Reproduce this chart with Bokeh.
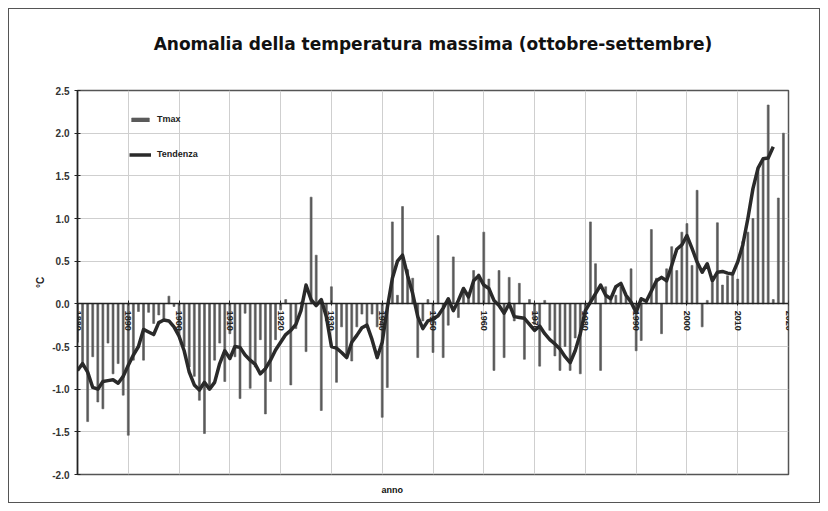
import math
from bokeh.plotting import figure
from bokeh.models import Range1d, FixedTicker, Title, Legend, LegendItem, NumeralTickFormatter, ColumnDataSource
from bokeh.embed import file_html
from bokeh.resources import INLINE

# ---- data ----
years = list(range(1880, 2020))
anomalies = [
    -0.45, -0.74, -1.38, -0.62, -1.15, -1.23, -0.46, -0.82, -0.70, -1.07,
    -1.54, -0.66, -0.09, -0.66, -0.10, -0.23, -0.13, -0.19, 0.09, -0.03,
    -0.38, -0.50, -0.74, -0.85, -1.13, -1.52, -0.97, -0.66, -0.46, -0.91,
    -0.35, -0.62, -1.11, -0.11, -0.99, -0.74, -0.42, -1.29, -0.91, -0.42,
    -0.07, 0.05, -0.95, -0.29, 0.02, -0.56, 1.25, 0.57, -1.25, -0.20,
    0.20, -0.92, -0.27, -0.63, -0.67, -0.27, -0.12, -0.24, -0.12, -0.27,
    -1.33, -0.98, 0.96, 0.10, 1.14, 0.40, 0.30, -0.63, -0.20, 0.05,
    -0.57, 0.80, -0.63, -0.25, 0.55, -0.16, 0.16, 0.10, 0.39, 0.35,
    0.84, 0.29, -0.78, 0.39, -0.63, 0.31, -0.20, 0.24, -0.65, 0.05,
    -0.24, -0.73, 0.04, -0.31, -0.61, -0.78, -0.50, -0.78, -0.40, -0.82,
    -0.15, 0.96, 0.47, -0.78, 0.20, 0.05, 0.10, 0.20, 0.10, 0.41,
    -0.55, -0.43, 0.05, 0.87, 0.30, -0.35, 0.41, 0.67, 0.39, 0.84,
    0.94, 0.45, 1.33, -0.27, 0.04, 0.25, 0.95, 0.22, 0.33, 0.35,
    0.29, 0.73, 0.84, 1.00, 1.59, 1.70, 2.33, 0.05, 1.24, 2.00,
]
trend_years = list(range(1880, 2018))
trend = [
    -0.78, -0.70, -0.80, -0.98, -1.00, -0.91, -0.90, -0.89, -0.93, -0.85,
    -0.72, -0.60, -0.50, -0.30, -0.33, -0.36, -0.22, -0.19, -0.20, -0.27,
    -0.38, -0.55, -0.80, -0.95, -1.01, -0.92, -1.00, -0.92, -0.70, -0.55,
    -0.64, -0.50, -0.51, -0.60, -0.66, -0.71, -0.82, -0.76, -0.66, -0.54,
    -0.45, -0.36, -0.31, -0.24, -0.08, 0.22, 0.05, -0.02, 0.05, -0.15,
    -0.50, -0.52, -0.57, -0.63, -0.45, -0.37, -0.28, -0.25, -0.42, -0.63,
    -0.45, -0.05, 0.30, 0.50, 0.57, 0.33, 0.12, -0.15, -0.29, -0.20,
    -0.18, -0.14, -0.05, 0.06, -0.08, 0.04, 0.18, 0.08, 0.27, 0.33,
    0.22, 0.18, 0.04, -0.02, -0.11, 0.00, -0.15, -0.16, -0.17, -0.24,
    -0.31, -0.26, -0.35, -0.42, -0.47, -0.53, -0.62, -0.69, -0.55, -0.35,
    -0.08, 0.02, 0.12, 0.22, 0.10, 0.06, 0.20, 0.24, 0.10, 0.02,
    -0.10, 0.06, 0.03, 0.15, 0.27, 0.31, 0.27, 0.45, 0.64, 0.69,
    0.80, 0.65, 0.49, 0.37, 0.47, 0.27, 0.37, 0.38, 0.36, 0.35,
    0.49, 0.69, 1.00, 1.35, 1.59, 1.70, 1.71, 1.84,
]
x_ticks = list(range(1880, 2021, 10))
y_ticks = [-2.0, -1.5, -1.0, -0.5, 0.0, 0.5, 1.0, 1.5, 2.0, 2.5]

title_text = "Anomalia della temperatura massima (ottobre-settembre)"
legend_bar = "Tmax"
legend_line = "Tendenza"
x_label = "anno"
y_label = "°C"

FONT = "Liberation Sans"

p = figure(width=812, height=495, output_backend="svg", toolbar_location=None,
           x_range=Range1d(1880, 2020), y_range=Range1d(-2.0, 2.5),
           min_border_left=68, min_border_right=33, min_border_top=81,
           min_border_bottom=30, title_location=None)
p.styles = {"border": "1px solid #555", "box-sizing": "border-box", "margin": "8px"}

# spacer panel between the frame and the title, then the title itself
p.add_layout(Title(text=" ", text_font_size="1px", standoff=32), "above")
p.add_layout(Title(text=title_text, align="center", text_font="DejaVu Sans",
                   text_font_size="17px", text_font_style="bold",
                   text_color="#111111", standoff=4), "above")

bars_src = ColumnDataSource(dict(x=years, top=anomalies))
trend_src = ColumnDataSource(dict(x=trend_years, y=trend))

r_bar = p.vbar(x="x", top="top", bottom=0, width=0.38, source=bars_src,
               fill_color="#5a5a5a", line_color="#5a5a5a", line_width=0.6)
r_line = p.line(x="x", y="y", source=trend_src, line_color="#2a2a2a",
                line_width=3.5, line_join="round")

# axes
p.xaxis.fixed_location = 0
p.xaxis.ticker = FixedTicker(ticks=x_ticks)
p.xaxis.major_label_orientation = -math.pi / 2
p.xaxis.major_label_text_font = FONT
p.xaxis.major_label_text_font_size = "9px"
p.xaxis.major_label_text_font_style = "bold"
p.xaxis.major_label_text_color = "#222222"
p.xaxis.axis_line_color = "#222222"
p.xaxis.axis_line_width = 1.5
p.xaxis.major_tick_in = 3
p.xaxis.major_tick_out = 2
p.xaxis.major_tick_line_color = "#222222"
p.xaxis.minor_tick_line_color = None

p.yaxis.ticker = FixedTicker(ticks=y_ticks)
p.yaxis.formatter = NumeralTickFormatter(format="0.0")
p.yaxis.major_label_text_font = FONT
p.yaxis.major_label_text_font_size = "10px"
p.yaxis.major_label_text_font_style = "bold"
p.yaxis.major_label_text_color = "#333333"
p.yaxis.axis_line_color = "#222222"
p.yaxis.axis_line_width = 1.5
p.yaxis.major_tick_in = 3
p.yaxis.major_tick_out = 3
p.yaxis.major_tick_line_color = "#222222"
p.yaxis.minor_tick_line_color = None
p.yaxis.axis_label = y_label
p.yaxis.axis_label_text_font = FONT
p.yaxis.axis_label_text_font_size = "10px"
p.yaxis.axis_label_text_font_style = "bold"
p.yaxis.axis_label_text_color = "#222222"
p.yaxis.axis_label_standoff = 3

p.add_layout(Title(text=x_label, align="left", text_font=FONT,
                   text_font_size="9px", text_font_style="bold",
                   text_color="#111111", offset=304, standoff=16), "below")

# grid
p.xgrid.ticker = FixedTicker(ticks=x_ticks)
p.ygrid.ticker = FixedTicker(ticks=y_ticks)
p.xgrid.grid_line_color = "#cfcfcf"
p.ygrid.grid_line_color = "#cfcfcf"
p.outline_line_color = "#555555"
p.outline_line_width = 1.5

legend = Legend(items=[LegendItem(label=legend_bar, renderers=[r_bar]),
                       LegendItem(label=legend_line, renderers=[r_line])],
                location=(52, 310), glyph_width=22, glyph_height=5,
                label_height=20, spacing=15, padding=4, label_standoff=6,
                label_text_font=FONT, label_text_font_size="9px",
                label_text_font_style="bold", label_text_color="#222222",
                background_fill_alpha=0, border_line_color=None)
p.add_layout(legend)

open("out.html", "w").write(file_html(p, INLINE))
